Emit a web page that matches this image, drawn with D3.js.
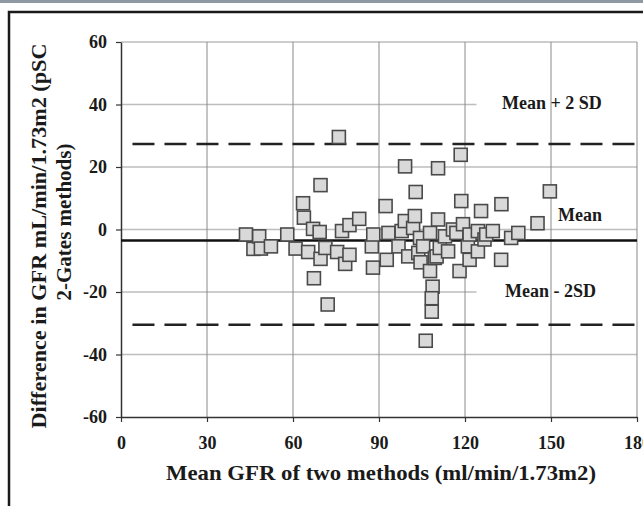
<!DOCTYPE html>
<html>
<head>
<meta charset="utf-8">
<script src="https://cdn.jsdelivr.net/npm/d3@7"></script>
<style>
body{margin:0;background:#fff;}
svg{display:block;}
text{font-family:"Liberation Serif","Times New Roman",serif;font-weight:bold;fill:#1a1a1a;}
</style>
</head>
<body>
<svg id="chart" width="643" height="506"></svg>
<script>
// mean GFR of the two methods (x) and difference between them (y)
var meanGFR = [43.6,46.2,48.2,48.8,52.3,58,
	60.9,63.5,63.8,65.3,67,67.3,69.3,69.6,69.6,71.3,72.1,75.4,76,77.1,78.2,79.7,79.7,
	83.1,87.5,87.9,88,92.3,92.7,93.3,96.8,97.9,99.1,99,100.2,
	101.9,102.5,102.8,103.7,104.5,104.3,105.4,107.8,107.8,108.7,108.4,108.4,106.3,109.5,110.6,110.6,110.1,111.2,113,114.1,115.8,117,118.5,118.7,118.1,119.3,
	121,121.6,121.6,124.5,124.5,125.6,126.8,127.4,129.7,132.7,132.6,136.1,138.6,145.3,149.6];
var diffGFR = [-1.6,-6.2,-2.2,-6.1,-5.4,-1.6,
	-6.1,8.4,3.8,-7.2,0.2,-15.6,-0.8,-9.4,14.2,-5.9,-24,-7.2,29.6,-0.5,-11,1.4,-8.1,
	3.4,-5.4,-12.2,-1.6,7.5,-9.7,-1.1,-5.4,-0.5,20.2,2.7,-8.6,
	0.5,4.3,12,-7.5,-10.5,-2.7,-5.4,-1.1,-13.3,-18.3,-22,-26.3,-35.6,-9.1,19.6,3.2,-8.6,-5.9,-2.2,-7,0,-1.1,23.9,9.1,-13.3,1.7,
	-5.4,-1.6,-9.7,-0.5,-7,5.9,-3.2,-1.6,-0.5,8.1,-9.7,-2.7,-1.1,2,12.2];
var xTicks = [0,30,60,90,120,150,180];
var yTicks = [-60,-40,-20,0,20,40,60];
var meanDiff = -3.5;
var upperLimit = 27.4;
var lowerLimit = -30.5;
var refLabels = ["Mean + 2 SD","Mean","Mean - 2SD"];

var svg = d3.select("#chart");

// outer frame
svg.append("rect").attr("x",0).attr("y",0).attr("width",643).attr("height",3).style("fill","#8f99a4");
svg.append("rect").attr("x",9).attr("y",12).attr("width",660).attr("height",520)
	.style("fill","none").attr("stroke","#1a1a1a").attr("stroke-width",2.5);

var x = d3.scaleLinear().domain([0,180]).range([121,637]);
var y = d3.scaleLinear().domain([-60,60]).range([417,42]);

var grid = svg.append("g");
// horizontal gridlines, the ones behind the labels stop short
yTicks.forEach(function(v){
	if(v == -60) return;
	var stop = (v == 40 || v == -20) ? 124 : 180;
	grid.append("line")
		.attr("x1",x(0)).attr("x2",x(stop))
		.attr("y1",y(v)).attr("y2",y(v))
		.attr("stroke","#bdbdbd").attr("stroke-width",1.6);
});
xTicks.forEach(function(v){
	if(v == 0) return;
	grid.append("line")
		.attr("x1",x(v)).attr("x2",x(v))
		.attr("y1",y(60)).attr("y2",y(-60))
		.attr("stroke","#8a8a8a").attr("stroke-width",1);
});

// axes, plain hyphen for negatives as in the original
var fmt = function(d){ return String(d); };
var xAxis = svg.append("g").attr("transform","translate(0,"+y(-60)+")")
	.call(d3.axisBottom(x).tickValues(xTicks).tickFormat(fmt).tickSize(5).tickSizeOuter(0).tickPadding(14));
var yAxis = svg.append("g").attr("transform","translate("+x(0)+",0)")
	.call(d3.axisLeft(y).tickValues(yTicks).tickFormat(fmt).tickSize(5).tickSizeOuter(0).tickPadding(9));
[xAxis,yAxis].forEach(function(a){
	a.select(".domain").attr("stroke","#333").attr("stroke-width",1.5);
	a.selectAll(".tick line").attr("stroke","#333").attr("stroke-width",1.2);
	a.selectAll(".tick text").style("font-size","18px").attr("fill","#1a1a1a")
		.style("font-family","'Liberation Serif',serif");
});

// limits of agreement
var refs = svg.append("g");
[upperLimit,lowerLimit].forEach(function(v){
	refs.append("line")
		.attr("x1",x(4)).attr("x2",x(180))
		.attr("y1",y(v)).attr("y2",y(v))
		.attr("stroke","#222").attr("stroke-width",2.5)
		.attr("stroke-dasharray","22,10");
});
refs.append("line")
	.attr("x1",x(0)).attr("x2",x(180))
	.attr("y1",y(meanDiff)).attr("y2",y(meanDiff))
	.attr("stroke","#111").attr("stroke-width",2.5);

// points
var pts = svg.append("g");
meanGFR.forEach(function(m,i){
	pts.append("rect")
		.attr("x",x(m)-6.5).attr("y",y(diffGFR[i])-6.5)
		.attr("width",13).attr("height",13)
		.style("fill","#d9d9d9")
		.attr("stroke","#4a4a4a").attr("stroke-width",1.6);
});

// labels
svg.append("text").attr("x",502).attr("y",109).style("font-size","18px").text(refLabels[0]);
svg.append("text").attr("x",558).attr("y",221).style("font-size","18px").text(refLabels[1]);
svg.append("text").attr("x",505).attr("y",297).style("font-size","18px").text(refLabels[2]);

svg.append("text").attr("x",381).attr("y",480).attr("text-anchor","middle")
	.style("font-size","21px").attr("textLength",430).attr("lengthAdjust","spacingAndGlyphs")
	.text("Mean GFR of two methods (ml/min/1.73m2)");

svg.append("text").attr("transform","translate(46,236) rotate(-90)").attr("text-anchor","middle")
	.style("font-size","21px").attr("textLength",385).attr("lengthAdjust","spacingAndGlyphs")
	.text("Difference in GFR mL/min/1.73m2 (pSC");
svg.append("text").attr("transform","translate(71,222) rotate(-90)").attr("text-anchor","middle")
	.style("font-size","21px")
	.text("2-Gates methods)");
</script>
</body>
</html>
